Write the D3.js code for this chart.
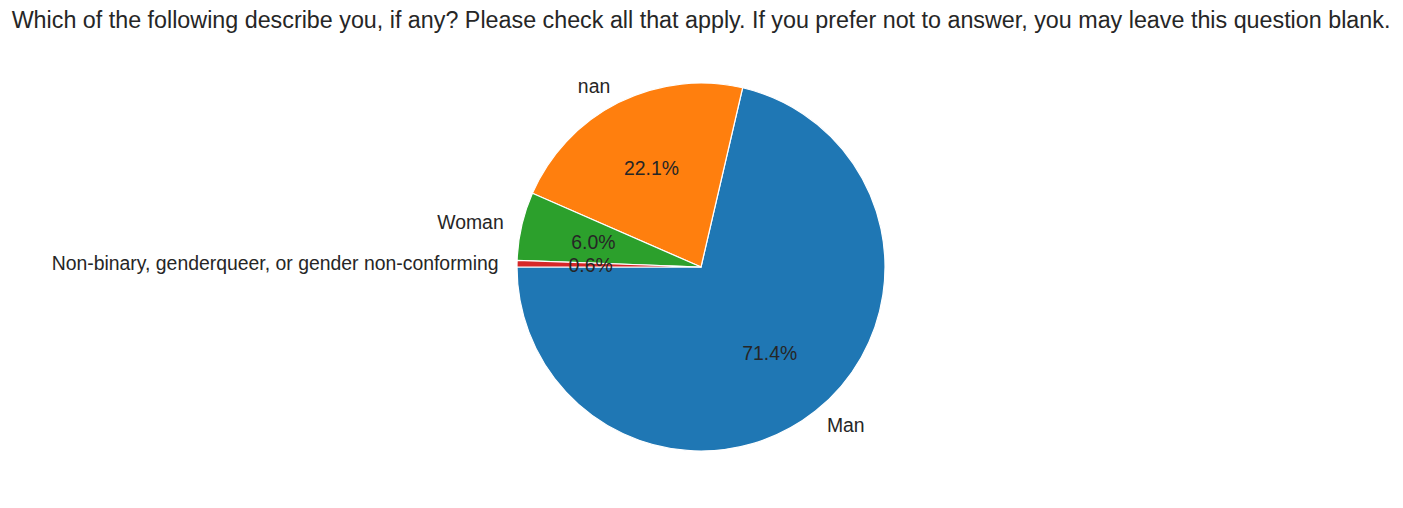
<!DOCTYPE html>
<html><head><meta charset="utf-8">
<script src="https://cdn.jsdelivr.net/npm/d3@7"></script>
<style>body{margin:0;background:#fff;}text{font-family:"Liberation Sans",Arial,sans-serif;fill:#262626;}</style>
</head><body><svg id="c" width="1403" height="508"></svg>
<script>
const categories = ["Man", "nan", "Woman", "Non-binary, genderqueer, or gender non-conforming"];
const values = [71.37, 22.07, 5.98, 0.58];
const colors = ["#1f77b4", "#ff7f0e", "#2ca02c", "#d62728"];
const title = "Which of the following describe you, if any? Please check all that apply. If you prefer not to answer, you may leave this question blank.";

const svg = d3.select("#c");
const cx = 701, cy = 267, r = 184;
svg.append("text").attr("x", 701).attr("y", 28).attr("text-anchor", "middle")
  .style("font-size", "23.3px").text(title);

const total = d3.sum(values);
const data = categories.map((c, i) => ({c, v: values[i], col: colors[i]}));
const pie = d3.pie().value(d => d.v).sort(null).startAngle(-Math.PI/2).endAngle(-Math.PI/2 - 2*Math.PI);
const arcs = pie(data);
const arc = d3.arc().innerRadius(0).outerRadius(r);
const g = svg.append("g").attr("transform", `translate(${cx},${cy})`);
g.selectAll("path").data(arcs).join("path").attr("d", arc)
  .attr("fill", d => d.data.col).attr("stroke", "#fff").attr("stroke-width", 1.2).attr("stroke-linejoin", "round");
function pos(d, k) { const a = (d.startAngle + d.endAngle) / 2; return [k * r * Math.sin(a), -k * r * Math.cos(a)]; }
g.selectAll("text.lab").data(arcs).join("text").attr("class", "lab")
  .attr("x", d => pos(d, 1.1)[0]).attr("y", d => pos(d, 1.1)[1])
  .attr("text-anchor", d => pos(d, 1.1)[0] > 0 ? "start" : "end")
  .attr("dominant-baseline", "central").style("font-size", "19.4px").text(d => d.data.c);
g.selectAll("text.pct").data(arcs).join("text").attr("class", "pct")
  .attr("x", d => pos(d, 0.6)[0]).attr("y", d => pos(d, 0.6)[1])
  .attr("text-anchor", "middle").attr("dominant-baseline", "central").style("font-size", "19.4px")
  .text(d => (d.data.v / total * 100).toFixed(1) + "%");
</script></body></html>
